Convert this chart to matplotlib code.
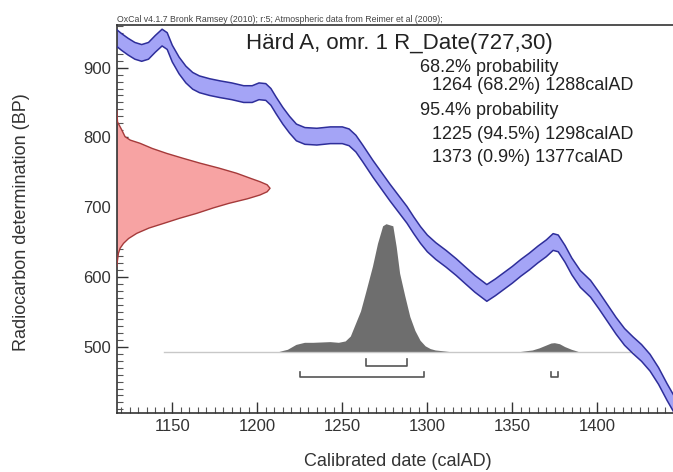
import numpy as np
import matplotlib
matplotlib.use("Agg")
import matplotlib.pyplot as plt
from matplotlib.ticker import MultipleLocator

plt.rcParams['font.family'] = ['Liberation Sans', 'DejaVu Sans']

# calibration curve (IntCal09 band)
cal_year = [1117, 1120, 1124, 1128, 1132, 1136, 1140, 1144, 1147, 1150, 1154, 1158,
            1162, 1166, 1172, 1178, 1185, 1192, 1197, 1201, 1205, 1208, 1211, 1215,
            1219, 1223, 1228, 1235, 1243, 1250, 1254, 1258, 1262, 1268, 1273, 1278,
            1283, 1288, 1292, 1296, 1300, 1305, 1311, 1317, 1322, 1328, 1335, 1340,
            1345, 1350, 1355, 1360, 1365, 1370, 1374, 1377, 1381, 1385, 1390, 1396,
            1401, 1406, 1411, 1416, 1421, 1426, 1431, 1436, 1441, 1445]
cal_bp = [943, 937, 930, 924, 921, 924, 934, 943, 938, 920, 903, 890,
          881, 876, 872, 869, 866, 862, 862, 866, 865, 858, 846, 831,
          818, 807, 802, 801, 803, 803, 800, 791, 777, 755, 738, 721,
          705, 689, 674, 660, 648, 637, 626, 614, 603, 590, 577, 585,
          594, 603, 613, 622, 632, 641, 650, 648, 633, 615, 597, 583,
          566, 548, 530, 514, 502, 491, 477, 458, 435, 418]
cal_sig = [12] * len(cal_year)

# radiocarbon date R_Date(727,30) - red curve on the y axis
r_bp = [839, 822, 811, 801, 796, 791.5, 784, 777, 770, 763, 756, 748.5, 741, 736.4,
        732, 727, 722, 717.4, 712, 705.4, 699, 691, 684, 676.8, 670, 662.4, 655,
        648, 641, 633.7, 615]
r_width = [0, 0.5, 2.9, 4.9, 8, 13.7, 21, 29.4, 39, 49, 60, 70.6, 79, 84.3,
           88.5, 90.2, 88.5, 84.3, 77, 66, 57, 47, 37, 27.8, 19, 11.8, 7,
           4, 2, 1, 0]

# calibrated distribution (grey), heights above baseline in BP units
p_year = [1213, 1218, 1223, 1228, 1233, 1238, 1243, 1248, 1252, 1255, 1258, 1261,
          1264, 1268, 1271, 1274, 1276, 1280, 1282, 1284, 1287, 1290, 1293, 1296,
          1299, 1302, 1305, 1309, 1313, 1355, 1362, 1366, 1370, 1373, 1375, 1378,
          1381, 1385, 1389]
p_height = [0, 3, 10, 13, 13, 13.5, 14, 13, 15, 22, 40, 58,
            85, 122, 155, 180, 183, 180, 150, 112, 80, 50, 30, 16,
            8, 4, 2, 1, 0, 0, 2, 5, 9, 12, 12.5, 11,
            7, 3, 0]
p_base = 492.5
p_span = [1145, 1421]

# ranges
range_68 = [(1264, 1288)]
range_95 = [(1225, 1298), (1373, 1377)]

title = "Härd A, omr. 1 R_Date(727,30)"
header = "OxCal v4.1.7 Bronk Ramsey (2010); r:5; Atmospheric data from Reimer et al (2009);"
summary = ["68.2% probability",
           "1264 (68.2%) 1288calAD",
           "95.4% probability",
           "1225 (94.5%) 1298calAD",
           "1373 (0.9%) 1377calAD"]

fig = plt.figure(figsize=(6.73, 4.72), dpi=100)
ax = fig.add_axes([0.1734, 0.1244, 0.8266, 0.8226])
ax.set_xlim(1117.3, 1444.5)
ax.set_ylim(404.5, 961)

# calibration band
cy = np.array(cal_year)
cb = np.array(cal_bp)
cs = np.array(cal_sig)
ax.fill_between(cy, cb - cs, cb + cs, facecolor='#a4a4f6', edgecolor='none', zorder=2)
ax.plot(cy, cb + cs, color='#2e2e9a', lw=1.1, zorder=3, solid_joinstyle='round')
ax.plot(cy, cb - cs, color='#2e2e9a', lw=1.1, zorder=3, solid_joinstyle='round')

# radiocarbon date distribution
rx = 1117.3 + np.array(r_width)
ax.fill_betweenx(r_bp, 1117.3, rx, facecolor='#f7a3a3', edgecolor='none', zorder=2)
ax.plot(rx, r_bp, color='#a53a3a', lw=1.0, zorder=3, solid_joinstyle='round')

# calibrated distribution
ax.plot(p_span, [p_base, p_base], color='#c8c8c8', lw=1.0, zorder=2)
ax.fill_between(p_year, p_base, p_base + np.array(p_height), facecolor='#6e6e6e',
                edgecolor='none', zorder=3)

# range brackets
def bracket(lo, hi, y, h):
    ax.plot([lo, lo, hi, hi], [y + h, y, y, y + h], color='#555555', lw=1.2, zorder=3)

for lo, hi in range_68:
    bracket(lo, hi, 472.5, 10)
for lo, hi in range_95:
    bracket(lo, hi, 456, 8)

# axes styling
ax.spines['right'].set_visible(False)
for side in ['left', 'bottom', 'top']:
    ax.spines[side].set_linewidth(1.2)
    ax.spines[side].set_color('#333333')
ax.xaxis.set_major_locator(MultipleLocator(50))
ax.xaxis.set_minor_locator(MultipleLocator(5))
ax.yaxis.set_major_locator(MultipleLocator(100))
ax.yaxis.set_minor_locator(MultipleLocator(10))
ax.tick_params(which='major', direction='in', length=8, width=1.0, color='#333333',
               labelsize=12, labelcolor='#333333', pad=4)
ax.tick_params(which='minor', direction='in', length=4, width=0.8, color='#555555')
ax.tick_params(top=False, right=False, which='both')

fig.text(398 / 673, 1 - 461 / 472, "Calibrated date (calAD)", ha='center', va='center',
         fontsize=13, color='#333333')
fig.text(22 / 673, 1 - 222 / 472, "Radiocarbon determination (BP)", ha='center', va='center',
         rotation=90, fontsize=13, color='#333333')

fig.text(117 / 673, 1 - 22 / 472, header, ha='left', va='baseline', fontsize=6.3,
         color='#444444', family=['Liberation Sans Narrow', 'Liberation Sans'])
fig.text(246 / 673, 1 - 49 / 472, title, ha='left', va='baseline', fontsize=16, color='#222222')

base_y = [71.7, 90, 115, 138.7, 162.3]
left_x = [420, 431.7, 420, 431.7, 431.7]
for s, bx, by in zip(summary, left_x, base_y):
    fig.text(bx / 673, 1 - by / 472, s, ha='left', va='baseline', fontsize=13, color='#222222')

fig.savefig("out.png", dpi=100)
